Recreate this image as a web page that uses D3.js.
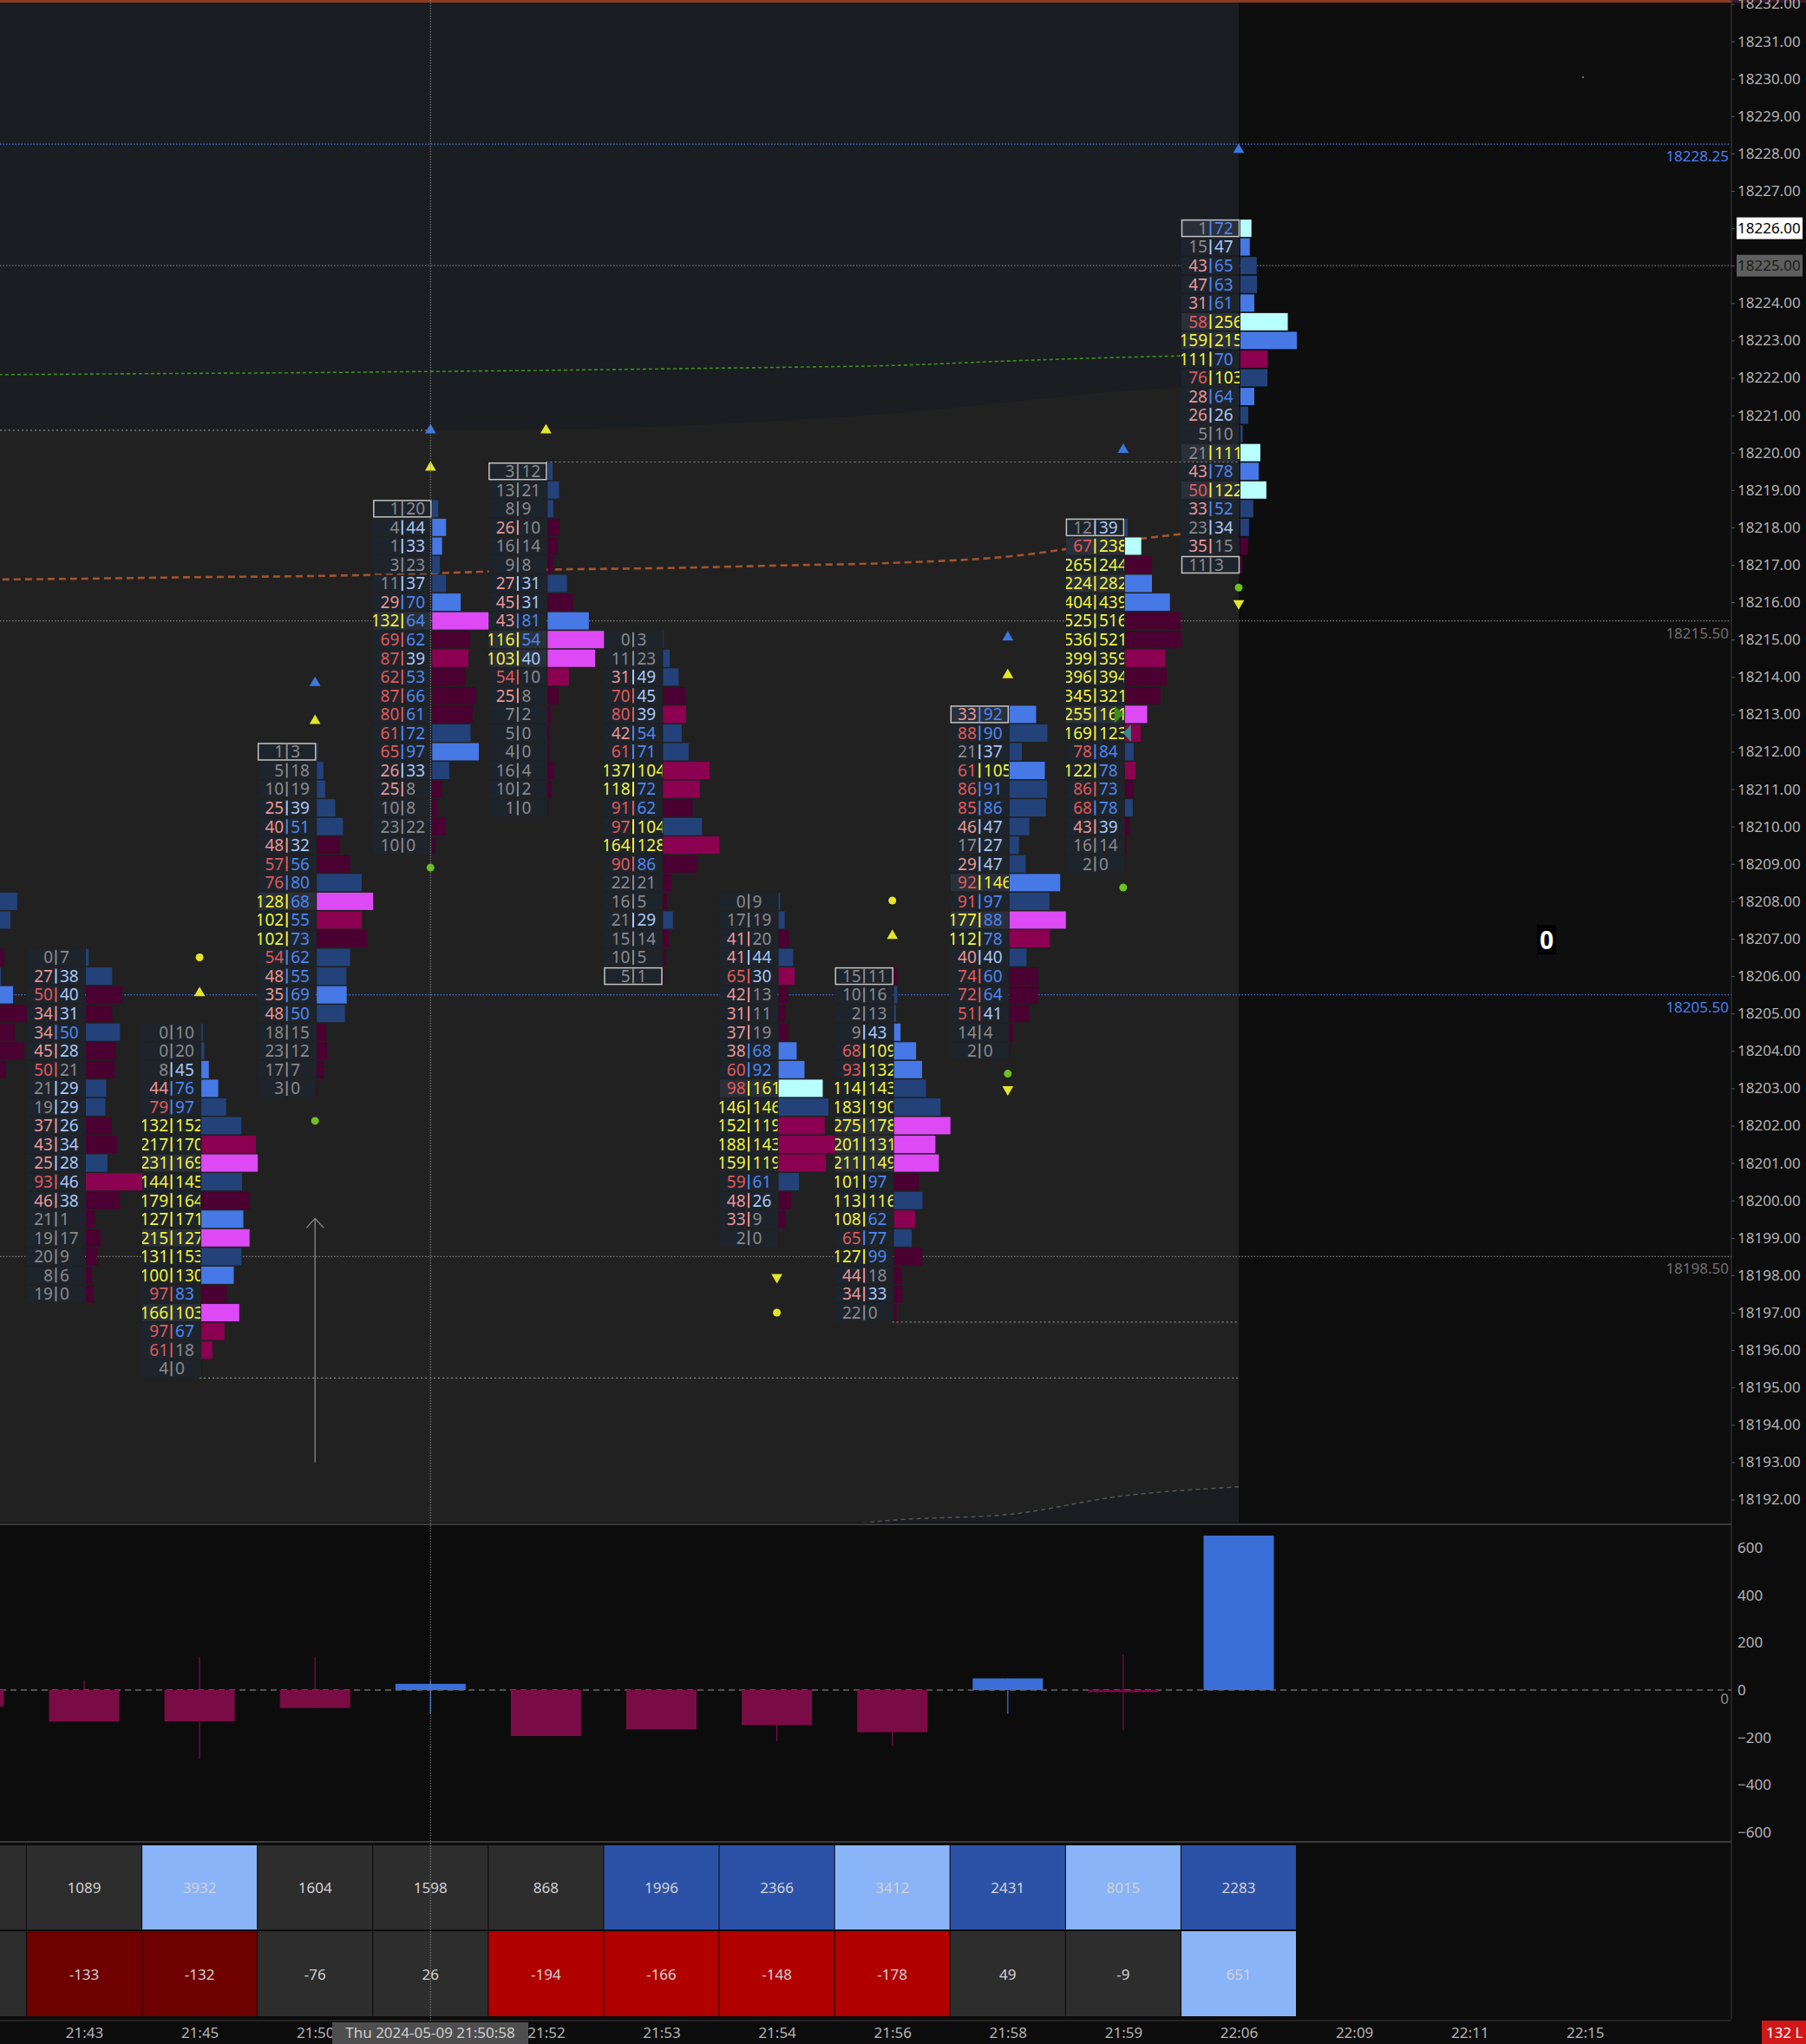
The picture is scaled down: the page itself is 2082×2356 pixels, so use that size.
<!DOCTYPE html>
<html><head><meta charset="utf-8">
<script src="https://cdn.jsdelivr.net/npm/d3@7"></script>
<style>body{margin:0;background:#0c0c0c;overflow:hidden}svg{display:block}</style>
</head><body><svg id="c" width="2082" height="2356"></svg>
<script>
// ---------------- DATA ----------------
const colIndex = [0,1,2,3,4,5,6,7,8,9,10,11];
const timeLabels = ["21:43","21:45","21:50","21:51","21:52","21:53","21:54","21:56","21:58","21:59","22:06","22:09","22:11","22:15"];
const fpTop = [18208, 18206.5, 18204.5, 18212, 18218.5, 18219.5, 18215, 18208, 18206, 18213, 18218, 18226];
const fpBid = [
 [75,62,40,68,50,55,108,88,105,70,30,12],
 [0,27,50,34,34,45,50,21,19,37,43,25,93,46,21,19,20,8,19],
 [0,0,8,44,79,132,217,231,144,179,127,215,131,100,97,166,97,61,4],
 [1,5,10,25,40,48,57,76,128,102,102,54,48,35,48,18,23,17,3],
 [1,4,1,3,11,29,132,69,87,62,87,80,61,65,26,25,10,23,10],
 [3,13,8,26,16,9,27,45,43,116,103,54,25,7,5,4,16,10,1],
 [0,11,31,70,80,42,61,137,118,91,97,164,90,22,16,21,15,10,5],
 [0,17,41,41,65,42,31,37,38,60,98,146,152,188,159,59,48,33,2],
 [15,10,2,9,68,93,114,183,275,201,211,101,113,108,65,127,44,34,22],
 [33,88,21,61,86,85,46,17,29,92,91,177,112,40,74,72,51,14,2],
 [12,67,265,224,404,525,536,399,396,345,255,169,78,122,86,68,43,16,2],
 [1,15,43,47,31,58,159,111,76,28,26,5,21,43,50,33,23,35,11]
];
const fpAsk = [
 [91,80,48,52,58,96,92,69,86,56,22,8],
 [7,38,40,31,50,28,21,29,29,26,34,28,46,38,1,17,9,6,0],
 [10,20,45,76,97,152,170,169,145,164,171,127,153,130,83,103,67,18,0],
 [3,18,19,39,51,32,56,80,68,55,73,62,55,69,50,15,12,7,0],
 [20,44,33,23,37,70,64,62,39,53,66,61,72,97,33,8,8,22,0],
 [12,21,9,10,14,8,31,31,81,54,40,10,8,2,0,0,4,2,0],
 [3,23,49,45,39,54,71,104,72,62,104,128,86,21,5,29,14,5,1],
 [9,19,20,44,30,13,11,19,68,92,161,146,119,143,119,61,26,9,0],
 [11,16,13,43,109,132,143,190,178,131,149,97,116,62,77,99,18,33,0],
 [92,90,37,105,91,86,47,27,47,146,97,88,78,40,60,64,41,4,0],
 [39,238,244,282,439,516,521,359,394,321,161,123,84,78,73,78,39,14,0],
 [72,47,65,63,61,256,215,70,103,64,26,10,111,78,122,52,34,15,3]
];
const boxedCells = [[3,18212],[4,18218.5],[5,18219.5],[6,18206],[8,18206],[9,18213],[10,18218],[11,18226],[11,18217]];
const vwapLine  = [18216.60,18216.63,18216.67,18216.70,18216.77,18216.87,18216.91,18216.98,18217.05,18217.22,18217.64,18217.99];
const greenLine = [18222.08,18222.10,18222.12,18222.14,18222.17,18222.20,18222.24,18222.28,18222.33,18222.45,18222.55,18222.62];
const bandUpper = [18220.6,18220.6,18220.6,18220.6,18220.6,18220.62,18220.7,18220.85,18221.05,18221.35,18221.65,18221.82];
const bandLower = [18189.0,18189.3,18189.6,18189.9,18190.2,18190.5,18190.8,18191.1,18191.45,18191.6,18192.1,18192.34];
const priceLines = [[18228.25,"blue"],[18225.00,"gray"],[18215.50,"gray"],[18205.50,"blue"],[18198.50,"gray"]];
const extLines = [[0,18220.6,4],[5,18219.75,11],[8,18196.75,11],[2,18195.25,11]];
const blueUp = [[3,18213.84],[4,18220.6],[9,18215.06],[10,18220.08],[11,18228.1]];
const yellowUp = [[2,18205.55],[3,18212.83],[4,18219.6],[5,18220.6],[8,18207.08],[9,18214.05]];
const yellowDown = [[7,18197.95],[9,18202.97],[11,18215.97]];
const greenDot = [[3,18202.13],[4,18208.9],[9,18203.39],[10,18208.37],[11,18216.39]];
const yellowDot = [[2,18206.5],[7,18197.0],[8,18208.02]];
const barDelta = [-70,-133,-132,-76,26,-194,-166,-148,-178,49,-9,651];
const barDeltaHigh = [0,40,140,140,40,0,0,0,0,49,150,651];
const barDeltaLow = [-70,-133,-290,-76,-100,-194,-166,-215,-235,-100,-170,0];
const tableVolume = [1200,1089,3932,1604,1598,868,1996,2366,3412,2431,8015,2283];
const tableDelta  = [-70,-133,-132,-76,26,-194,-166,-148,-178,49,-9,651];
const priceTicks = d3.range(18192, 18233, 1);
const deltaTicks = [600,400,200,0,-200,-400,-600];

// ---------------- LAYOUT ----------------
const W = 2082, plotR = 1996, mainB = 1755, histR = 1428;
const svg = d3.select('#c');
const defs = svg.append('defs');
const yP = d3.scaleLinear().domain([18192, 18232]).range([1728.5, 4.5]);
const xC = d3.scaleLinear().domain([1, 11]).range([97, 1428]);
const yD = d3.scaleLinear().domain([-600, 600]).range([2112, 1784]);
const rowH = Math.abs(yP(0.5) - yP(0));
const FONT = "'Noto Sans', 'Open Sans', sans-serif";

svg.append('rect').attr('width', W).attr('height', 2356).attr('fill', '#0c0c0c');
defs.append('clipPath').attr('id','mainClip').append('rect').attr('x',0).attr('y',0).attr('width',plotR).attr('height',mainB);
defs.append('clipPath').attr('id','histClip').append('rect').attr('x',0).attr('y',0).attr('width',histR).attr('height',mainB);

const main = svg.append('g').attr('clip-path','url(#mainClip)');
main.append('rect').attr('x',0).attr('y',0).attr('width',plotR).attr('height',mainB).attr('fill','#0e0e0e');
const hist = main.append('g').attr('clip-path','url(#histClip)');
hist.append('rect').attr('x',0).attr('y',0).attr('width',histR).attr('height',mainB).attr('fill','#1a1d21');
const bandArea = d3.area().x((d,i)=>xC(colIndex[i])).y0((d,i)=>yP(bandLower[i])).y1((d,i)=>yP(bandUpper[i])).curve(d3.curveMonotoneX);
hist.append('path').datum(bandUpper).attr('d', bandArea).attr('fill','#212121');
const lineGen = arr => d3.line().x((d,i)=>xC(colIndex[i])).y(d=>yP(d)).curve(d3.curveMonotoneX)(arr);
hist.append('path').attr('d', lineGen(bandLower)).attr('fill','none').attr('stroke','#555').attr('stroke-width',1.5).attr('stroke-dasharray','5,4');

// horizontal price lines
priceLines.forEach(([p,c])=>{
  const col = c==='blue' ? '#3f74e0' : '#7a7a7a';
  main.append('line').attr('x1',0).attr('x2',plotR).attr('y1',yP(p)).attr('y2',yP(p))
    .attr('stroke',col).attr('stroke-width',1.2).attr('stroke-dasharray','1.5,2');
  if (p !== 18225.00) {
    main.append('text').attr('x',plotR-3).attr('y',yP(p)+20).attr('text-anchor','end')
      .attr('font-family',FONT).attr('font-size',17).attr('fill', c==='blue' ? '#4a80f0' : '#6e6e6e').text(p.toFixed(2));
  }
});
// extension lines
extLines.forEach(([c0,p,c1])=>{
  main.append('line').attr('x1',c0===0?0:xC(c0)).attr('x2',xC(c1)).attr('y1',yP(p)).attr('y2',yP(p))
    .attr('stroke','#8a8a8a').attr('stroke-width',1.2).attr('stroke-dasharray','2,3');
});
// green and vwap lines
hist.append('path').attr('d', lineGen(greenLine)).attr('fill','none').attr('stroke','#3d8f1c').attr('stroke-width',1.6).attr('stroke-dasharray','4,3');
hist.append('path').attr('d', lineGen(vwapLine)).attr('fill','none').attr('stroke','#a5532b').attr('stroke-width',2.6).attr('stroke-dasharray','8,5');

// ---------------- FOOTPRINT ----------------
function barColor(b,a){ const d=a-b;
  if (d>=60) return '#b8ffff'; if (d>=30) return '#4678e6'; if (d>=0) return '#23427a';
  if (d<=-60) return '#dd4af5'; if (d<=-30) return '#8b0050'; return '#4a0030'; }
function bidColor(v){ return v>=100?'#f2f23a': v>=50?'#e05a5a': v>=25?'#e89696':'#8a8a8a'; }
function askColor(v){ return v>=100?'#f2f23a': v>=50?'#4d86f0': v>=25?'#a9c7f5':'#8a8a8a'; }
const fp = main.append('g');
fpTop.forEach((top, ci)=>{
  const c = xC(colIndex[ci]);
  const rows = fpBid[ci].map((b,i)=>({price: top-0.5*i, bid:b, ask:fpAsk[ci][i]}));
  const maxT = d3.max(rows, r=>r.bid+r.ask);
  const wS = d3.scaleLinear().domain([0,maxT]).range([0,65]);
  defs.append('clipPath').attr('id','cc'+ci).append('rect').attr('x',c-66).attr('y',0).attr('width',67).attr('height',mainB);
  const g = fp.append('g');
  g.selectAll('rect.bar').data(rows).join('rect').attr('class','bar')
    .attr('x',c+2).attr('y',r=>yP(r.price)-rowH/2+0.8).attr('width',r=>wS(r.bid+r.ask)).attr('height',rowH-1.6)
    .attr('fill',r=>barColor(r.bid,r.ask));
  if (c - 66 < 0) return; // cells of the off-screen column are not visible
  const cg = g.append('g').attr('clip-path','url(#cc'+ci+')');
  cg.selectAll('rect.cell').data(rows).join('rect').attr('class','cell')
    .attr('x',c-66).attr('y',r=>yP(r.price)-rowH/2+0.8).attr('width',67).attr('height',rowH-1.6)
    .attr('fill',r=>Math.abs(r.ask-r.bid)>=50?'#2a303a':'#1e242c');
  cg.selectAll('text.bid').data(rows).join('text').attr('class','bid')
    .attr('x',c-36).attr('y',r=>yP(r.price)+6.8).attr('text-anchor','end')
    .attr('font-family',FONT).attr('font-size',19).attr('fill',r=>bidColor(r.bid)).text(r=>r.bid);
  cg.selectAll('text.ask').data(rows).join('text').attr('class','ask')
    .attr('x',c-28).attr('y',r=>yP(r.price)+6.8).attr('text-anchor','start')
    .attr('font-family',FONT).attr('font-size',19).attr('fill',r=>askColor(r.ask)).text(r=>r.ask);
  cg.selectAll('line.div').data(rows).join('line').attr('class','div')
    .attr('x1',c-32.5).attr('x2',c-32.5).attr('y1',r=>yP(r.price)-8.5).attr('y2',r=>yP(r.price)+8.5)
    .attr('stroke',r=>r.ask>=r.bid?askColor(r.ask):bidColor(r.bid)).attr('stroke-width',2);
});
boxedCells.forEach(([ci,p])=>{
  const c = xC(ci);
  fp.append('rect').attr('x',c-65.5).attr('y',yP(p)-rowH/2+1.3).attr('width',66).attr('height',rowH-2.6)
    .attr('fill','none').attr('stroke','#c4c4c4').attr('stroke-width',1.5);
});

// ---------------- MARKERS ----------------
const mk = main.append('g');
const tri = d3.symbol().type(d3.symbolTriangle).size(70);
function triangles(list, color, down){
  mk.selectAll(null).data(list).join('path').attr('d',tri)
    .attr('transform',d=>`translate(${xC(d[0])},${yP(d[1])}) rotate(${down?180:0})`).attr('fill',color);
}
triangles(blueUp,'#3a78e0',false);
triangles(yellowUp,'#e4e42c',false);
triangles(yellowDown,'#e4e42c',true);
mk.selectAll(null).data(greenDot).join('circle').attr('cx',d=>xC(d[0])).attr('cy',d=>yP(d[1])).attr('r',4.5).attr('fill','#6cc020');
mk.selectAll(null).data(yellowDot).join('circle').attr('cx',d=>xC(d[0])).attr('cy',d=>yP(d[1])).attr('r',4.5).attr('fill','#e4e42c');
mk.append('path').attr('d',`M${xC(10)-10},${yP(18213)-10}L${xC(10)},${yP(18213)}L${xC(10)-10},${yP(18213)+10}Z`).attr('fill','#3d8f1c');
mk.append('path').attr('d',`M${xC(10)+9},${yP(18212.5)-10}L${xC(10)},${yP(18212.5)}L${xC(10)+9},${yP(18212.5)+10}Z`).attr('fill','#3a8a8a');
const ax = xC(3);
mk.append('line').attr('x1',ax).attr('x2',ax).attr('y1',yP(18193.0)).attr('y2',yP(18199.52)).attr('stroke','#8a8a8a').attr('stroke-width',1.3);
mk.append('path').attr('d',`M${ax-10},${yP(18199.52)+11}L${ax},${yP(18199.52)}L${ax+10},${yP(18199.52)+11}`).attr('fill','none').attr('stroke','#8a8a8a').attr('stroke-width',1.3);
mk.append('rect').attr('x',1772).attr('y',1066).attr('width',22).attr('height',34).attr('fill','#000');
mk.append('text').attr('x',1783).attr('y',1094).attr('text-anchor','middle').attr('font-family',FONT).attr('font-weight','bold').attr('font-size',28).attr('fill','#fff').text('0');
mk.append('circle').attr('cx',1825).attr('cy',89).attr('r',1.2).attr('fill','#666');

// top border
svg.append('rect').attr('x',0).attr('y',0).attr('width',plotR).attr('height',3).attr('fill','#8a3b1e');
svg.append('rect').attr('x',plotR).attr('y',0).attr('width',W-plotR).attr('height',3).attr('fill','#3a1a28');

// ---------------- PRICE AXIS ----------------
const pAxis = svg.append('g').attr('transform',`translate(${plotR},0)`)
  .call(d3.axisRight(yP).tickValues(priceTicks).tickFormat(d=>d.toFixed(2)).tickSize(4).tickPadding(3));
pAxis.select('.domain').attr('stroke','#3a3a3a').attr('d',`M0,0V2327`);
pAxis.selectAll('.tick line').attr('stroke','#555');
pAxis.selectAll('text').attr('font-family',FONT).attr('font-size',17).attr('fill','#b4b4b4');
function axLabel(p, bg, fg){
  svg.append('rect').attr('x',2002).attr('y',yP(p)-12.5).attr('width',76).attr('height',25).attr('fill',bg);
  svg.append('text').attr('x',2003).attr('y',yP(p)+6).attr('font-family',FONT).attr('font-size',17).attr('fill',fg).text(p.toFixed(2));
}
axLabel(18226.00,'#ffffff','#000000');
axLabel(18225.00,'#5e5e5e','#1c1c1c');

svg.append('line').attr('x1',0).attr('x2',plotR).attr('y1',mainB+2).attr('y2',mainB+2).attr('stroke','#3a3a3a').attr('stroke-width',2);

// ---------------- DELTA PANEL ----------------
const dp = svg.append('g');
dp.append('line').attr('x1',0).attr('x2',plotR).attr('y1',yD(0)).attr('y2',yD(0)).attr('stroke','#6a6a6a').attr('stroke-width',1.3).attr('stroke-dasharray','7,5');
colIndex.forEach((ci,i)=>{
  const c = xC(ci), d = barDelta[i];
  const col = d>=0 ? '#3a6fd8' : '#7a0c45';
  dp.append('line').attr('x1',c).attr('x2',c).attr('y1',yD(barDeltaHigh[i])).attr('y2',yD(barDeltaLow[i])).attr('stroke',col).attr('stroke-width',1.3);
  dp.append('rect').attr('x',c-40.5).attr('width',81).attr('y',yD(Math.max(0,d))).attr('height',Math.max(1.5,Math.abs(yD(d)-yD(0)))).attr('fill',col);
});
dp.append('text').attr('x',1993).attr('y',yD(0)+16).attr('text-anchor','end').attr('font-family',FONT).attr('font-size',17).attr('fill','#8a8a8a').text('0');
const dAxis = svg.append('g').attr('transform',`translate(${plotR},0)`)
  .call(d3.axisRight(yD).tickValues(deltaTicks).tickFormat(d3.format('d')).tickSize(0).tickPadding(7));
dAxis.select('.domain').remove();
dAxis.selectAll('text').attr('font-family',FONT).attr('font-size',17).attr('fill','#b4b4b4');
svg.append('line').attr('x1',0).attr('x2',plotR).attr('y1',2123).attr('y2',2123).attr('stroke','#3a3a3a').attr('stroke-width',2);

// ---------------- TABLE ----------------
function volColor(v){ return v>=3000?'#8ab4f8': v>=1700?'#2c52a8':'#2d2d2d'; }
function dltColor(v){ return v>=100?'#8ab4f8': v<=-140?'#b00000': v<=-100?'#6e0000':'#2d2d2d'; }
const tb = svg.append('g');
colIndex.forEach((ci,i)=>{
  const c = xC(ci);
  tb.append('rect').attr('x',c-66).attr('y',2127).attr('width',132).attr('height',97).attr('fill',volColor(tableVolume[i]));
  tb.append('rect').attr('x',c-66).attr('y',2226).attr('width',132).attr('height',98).attr('fill',dltColor(tableDelta[i]));
  if (c - 66 < 0) return;
  tb.append('text').attr('x',c).attr('y',2182).attr('text-anchor','middle').attr('font-family',FONT).attr('font-size',17).attr('fill','#d2d2d2').text(tableVolume[i]);
  tb.append('text').attr('x',c).attr('y',2282).attr('text-anchor','middle').attr('font-family',FONT).attr('font-size',17).attr('fill','#d2d2d2').text(tableDelta[i]);
});

// ---------------- TIME AXIS ----------------
const chx = xC(4);
const tAxis = svg.append('g').attr('transform','translate(0,2329)')
  .call(d3.axisBottom(xC).tickValues(d3.range(1,15)).tickFormat((d,i)=>timeLabels[i]).tickSize(0).tickPadding(8));
tAxis.select('.domain').attr('stroke','#3a3a3a').attr('d',`M0,0H${plotR}`);
tAxis.selectAll('text').attr('font-family',FONT).attr('font-size',17).attr('fill','#b4b4b4');
tAxis.selectAll('.tick').filter(d=>Math.abs(xC(d)-chx)<1).remove(); // hidden under the crosshair time box

svg.append('line').attr('x1',chx).attr('x2',chx).attr('y1',0).attr('y2',2329).attr('stroke','#9a9a9a').attr('stroke-width',1).attr('stroke-dasharray','1.5,1.5').attr('opacity',0.8);
svg.append('rect').attr('x',383).attr('y',2331).attr('width',226).attr('height',25).attr('fill','#4e4e4e');
svg.append('text').attr('x',496).attr('y',2349).attr('text-anchor','middle').attr('font-family',FONT).attr('font-size',17).attr('fill','#cfcfcf').text('Thu 2024-05-09  21:50:58');
svg.append('rect').attr('x',2031).attr('y',2329).attr('width',51).attr('height',27).attr('fill','#d01818');
svg.append('text').attr('x',2036).attr('y',2349).attr('font-family',FONT).attr('font-size',17).attr('fill','#fff').text('132 L');
</script></body></html>
